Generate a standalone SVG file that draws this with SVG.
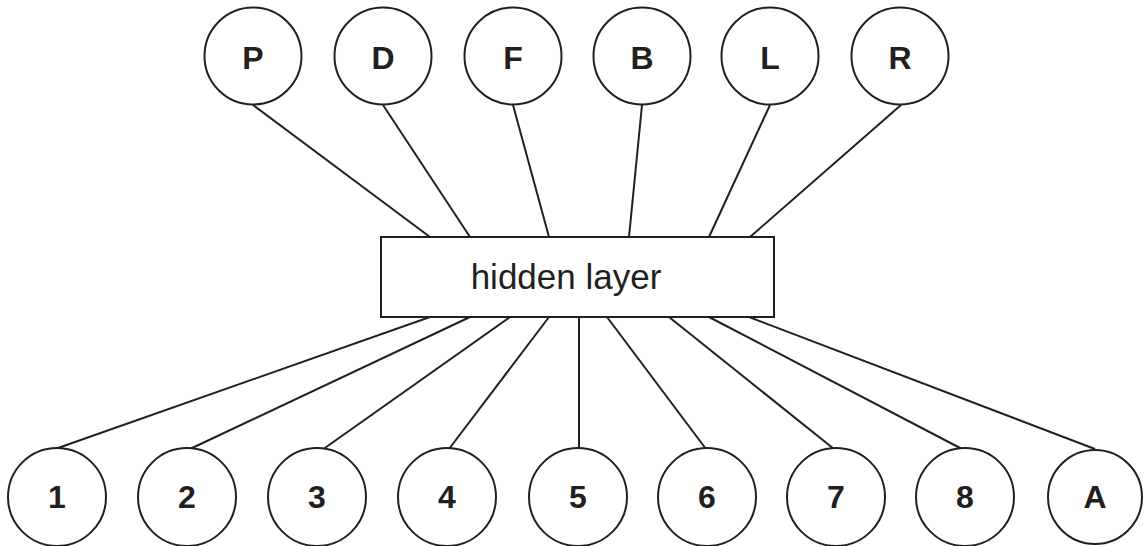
<svg xmlns="http://www.w3.org/2000/svg" width="1144" height="546" viewBox="0 0 1144 546">
<style>
.n circle{fill:#fff;stroke:#231f20;stroke-width:2}
.n text{font-family:"Liberation Sans",Arial,sans-serif;font-weight:bold;font-size:32px;fill:#231f20;text-anchor:middle}
#connectors line{stroke:#231f20;stroke-width:2}
</style>
<rect width="1144" height="546" fill="#fff"/>
<g id="connectors">
<line x1="253" y1="105" x2="430" y2="237"/>
<line x1="383" y1="105" x2="470" y2="237"/>
<line x1="513" y1="105" x2="549" y2="237"/>
<line x1="642" y1="105" x2="629" y2="237"/>
<line x1="770" y1="105" x2="709" y2="237"/>
<line x1="901" y1="105" x2="750" y2="237"/>
<line x1="430" y1="317" x2="58" y2="448"/>
<line x1="470" y1="317" x2="190" y2="449"/>
<line x1="510" y1="317" x2="322" y2="450"/>
<line x1="549" y1="317" x2="449" y2="449"/>
<line x1="579" y1="317" x2="579" y2="448"/>
<line x1="607" y1="317" x2="706" y2="449"/>
<line x1="669" y1="317" x2="834" y2="449"/>
<line x1="709" y1="317" x2="962" y2="449"/>
<line x1="749" y1="317" x2="1095" y2="449"/>
</g>
<g id="hidden" class="n">
<rect x="381" y="237" width="393" height="80" fill="#fff" stroke="#231f20" stroke-width="2"/>
<text x="566" y="289" style="font-weight:normal;font-size:35px">hidden layer</text>
</g>
<g id="nP" class="n"><circle cx="253" cy="56" r="48.5"/><text x="253" y="69">P</text></g>
<g id="nD" class="n"><circle cx="383" cy="56" r="48.5"/><text x="383" y="69">D</text></g>
<g id="nF" class="n"><circle cx="513" cy="56" r="48.5"/><text x="513" y="69">F</text></g>
<g id="nB" class="n"><circle cx="642" cy="56" r="48.5"/><text x="642" y="69">B</text></g>
<g id="nL" class="n"><circle cx="770" cy="56" r="48.5"/><text x="770" y="69">L</text></g>
<g id="nR" class="n"><circle cx="900" cy="56" r="48.5"/><text x="900" y="69">R</text></g>
<g id="n1" class="n"><circle cx="57" cy="497" r="49"/><text x="57" y="508">1</text></g>
<g id="n2" class="n"><circle cx="187" cy="497" r="49"/><text x="187" y="508">2</text></g>
<g id="n3" class="n"><circle cx="317" cy="497" r="49"/><text x="317" y="508">3</text></g>
<g id="n4" class="n"><circle cx="447" cy="497" r="49"/><text x="447" y="508">4</text></g>
<g id="n5" class="n"><circle cx="578" cy="497" r="49"/><text x="578" y="508">5</text></g>
<g id="n6" class="n"><circle cx="707" cy="497" r="49"/><text x="707" y="508">6</text></g>
<g id="n7" class="n"><circle cx="836" cy="497" r="49"/><text x="836" y="508">7</text></g>
<g id="n8" class="n"><circle cx="965" cy="497" r="49"/><text x="965" y="508">8</text></g>
<g id="nA" class="n"><circle cx="1095" cy="497" r="47"/><text x="1095" y="508">A</text></g>
</svg>
